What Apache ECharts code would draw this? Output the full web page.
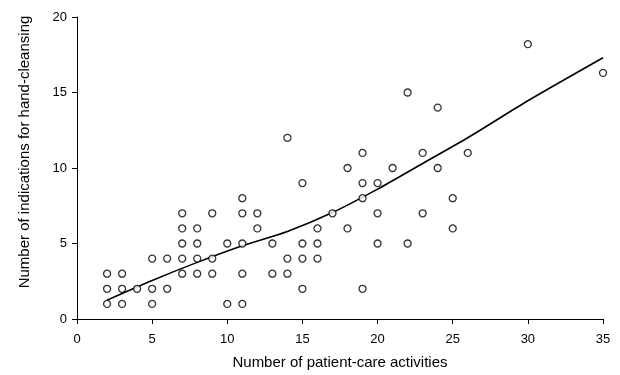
<!DOCTYPE html>
<html>
<head>
<meta charset="utf-8">
<script src="https://cdn.jsdelivr.net/npm/echarts@6/dist/echarts.min.js"></script>
<style>
  html, body { margin: 0; padding: 0; background: #fff; }
  #chart { width: 620px; height: 375px; }
</style>
</head>
<body>
<div id="chart"></div>
<script>
// observed [activities, indications] pairs
const activities = [
  2, 2, 2, 3, 3, 3, 4, 5, 5, 5, 6, 6,
  7, 7, 7, 7, 7, 8, 8, 8, 8, 9, 9, 9,
  10, 10, 11, 11, 11, 11, 11, 12, 12, 13, 13,
  14, 14, 14, 15, 15, 15, 15, 16, 16, 16, 17,
  18, 18, 19, 19, 19, 19, 20, 20, 20, 21,
  22, 22, 23, 23, 24, 24, 25, 25, 26, 30, 35
];
const indications = [
  3, 2, 1, 3, 2, 1, 2, 4, 2, 1, 4, 2,
  7, 6, 5, 4, 3, 6, 5, 4, 3, 7, 4, 3,
  5, 1, 8, 7, 5, 3, 1, 7, 6, 5, 3,
  12, 4, 3, 9, 5, 4, 2, 6, 5, 4, 7,
  10, 6, 11, 9, 8, 2, 9, 7, 5, 10,
  15, 5, 11, 7, 14, 10, 8, 6, 11, 18.2, 16.3
];

// smoothed fit
const fitX = [2, 5, 8, 11, 14, 17, 20, 23, 26, 30, 35];
const fitY = [1.25, 2.55, 3.75, 4.85, 5.8, 7.05, 8.6, 10.3, 12.0, 14.45, 17.3];

const chart = echarts.init(document.getElementById('chart'));

const font = 'Liberation Sans, Arial, Helvetica, sans-serif';
const axisCommon = {
  type: 'value',
  nameLocation: 'middle',
  nameTextStyle: { fontFamily: font, fontSize: 15, color: '#000' },
  axisLine: { show: true, lineStyle: { color: '#000', width: 1 } },
  axisTick: { show: true, length: 5, lineStyle: { color: '#000', width: 1 } },
  axisLabel: { fontFamily: font, fontSize: 13, color: '#000' },
  splitLine: { show: false },
};

chart.setOption({
  animation: false,
  backgroundColor: '#fff',
  grid: { left: 77, right: 17, top: 17, bottom: 56 },
  xAxis: Object.assign({}, axisCommon, {
    min: 0, max: 35, interval: 5,
    name: 'Number of patient-care activities',
    nameGap: 36,
    axisLabel: Object.assign({}, axisCommon.axisLabel, { margin: 14 }),
  }),
  yAxis: Object.assign({}, axisCommon, {
    min: 0, max: 20, interval: 5,
    name: 'Number of indications for hand-cleansing',
    nameGap: 45,
    nameTextStyle: Object.assign({}, axisCommon.nameTextStyle, { padding: [0, 0, 0, 32] }),
    axisLabel: Object.assign({}, axisCommon.axisLabel, { margin: 10 }),
  }),
  series: [
    {
      type: 'line',
      data: fitX.map((x, i) => [x, fitY[i]]),
      smooth: 0.25,
      showSymbol: false,
      lineStyle: { color: '#000', width: 1.6 },
      z: 2,
    },
    {
      type: 'scatter',
      data: activities.map((x, i) => [x, indications[i]]),
      symbol: 'circle',
      symbolSize: 7,
      itemStyle: { color: '#fff', borderColor: '#000', borderWidth: 1.3 },
      z: 3,
    },
  ],
});
</script>
</body>
</html>
